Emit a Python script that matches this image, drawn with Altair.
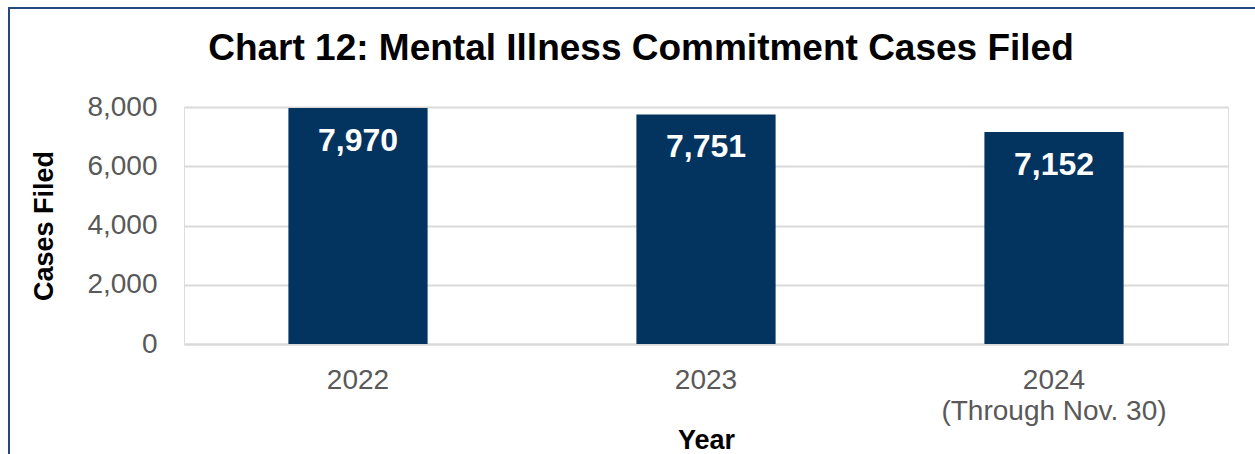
import altair as alt
import pandas as pd

title_text = "Chart 12: Mental Illness Commitment Cases Filed"
years = ["2022", "2023", "2024|(Through Nov. 30)"]
cases = [7970, 7751, 7152]

df = pd.DataFrame({"Year": years, "Cases": cases})

FONT = "Liberation Sans"
BAR = "#03345f"
GRID = "#d9d9d9"
EDGE = "#24497f"

base = alt.Chart(df)

bars = base.mark_bar(color=BAR).encode(
    x=alt.X(
        "Year:N",
        sort=years,
        scale=alt.Scale(paddingInner=0.6, paddingOuter=0.3),
        axis=alt.Axis(
            title="Year",
            labelAngle=0,
            labelExpr="split(datum.label, '|')",
            labelFont=FONT,
            labelFontSize=28,
            labelColor="#595959",
            labelLineHeight=31,
            labelPadding=22,
            labelLimit=0,
            ticks=False,
            tickSize=0,
            grid=False,
            domainColor=GRID,
            domainWidth=2,
            titleFont=FONT,
            titleFontSize=27,
            titleFontWeight="bold",
            titleColor="#000000",
            titleBaseline="alphabetic",
            titleY=104,
        ),
    ),
    y=alt.Y(
        "Cases:Q",
        scale=alt.Scale(domain=[0, 8000], nice=False),
        axis=alt.Axis(
            title="Cases Filed",
            values=[0, 2000, 4000, 6000, 8000],
            format=",d",
            labelFont=FONT,
            labelFontSize=28,
            labelColor="#595959",
            labelPadding=27,
            ticks=False,
            tickSize=0,
            domain=False,
            gridColor=GRID,
            gridWidth=2,
            titleFont=FONT,
            titleFontSize=27,
            titleFontWeight="bold",
            titleColor="#000000",
            titleAngle=-90,
            titleAlign="center",
            titleBaseline="middle",
            titleX=-140,
            titleY=118.5,
        ),
    ),
)

labels = base.mark_text(
    color="white",
    font=FONT,
    fontSize=32,
    fontWeight="bold",
    baseline="alphabetic",
    dy=43,
).encode(
    x=alt.X("Year:N", sort=years),
    y=alt.Y("Cases:Q"),
    text=alt.Text("Cases:Q", format=",d"),
)

one = pd.DataFrame({"b": [0]})
border_top = alt.Chart(one).mark_rule(color=EDGE, strokeWidth=2).encode(
    x=alt.value(-176),
    x2=alt.value(1100),
    y=alt.value(-99),
)
border_left = alt.Chart(one).mark_rule(color=EDGE, strokeWidth=2).encode(
    x=alt.value(-175),
    y=alt.value(-100),
    y2=alt.value(400),
)

title = alt.Chart(pd.DataFrame({"t": [title_text]})).mark_text(
    font=FONT,
    fontSize=37,
    fontWeight="bold",
    color="#000000",
    align="center",
    baseline="alphabetic",
).encode(
    x=alt.value(457),
    y=alt.value(-47),
    text="t:N",
)

chart = (
    alt.layer(bars, labels, border_top, border_left, title)
    .properties(
        width=1044,
        height=237,
        autosize=alt.AutoSizeParams(type="none"),
        padding={"left": 184, "top": 107, "right": 27, "bottom": 110},
    )
    .configure_view(stroke=None)
    .configure(background="white")
)

chart.save("out.html", embed_options={"renderer": "svg", "actions": False})
